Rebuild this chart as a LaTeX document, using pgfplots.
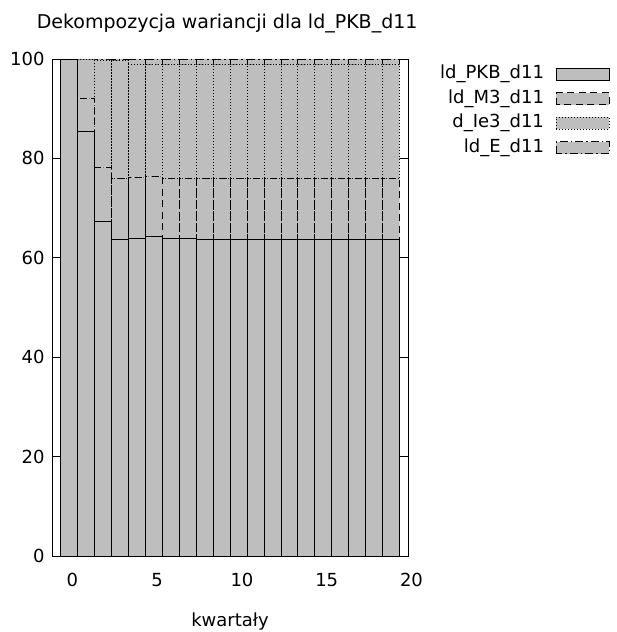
\documentclass[border=0pt]{standalone}
\usepackage{fontspec}
\setmainfont{DejaVu Sans}
\usepackage{pgfplots}
\usepackage{pgfplotstable}
\pgfplotsset{compat=1.18}
\definecolor{barfill}{HTML}{BEBEBE}

% udzialy w dekompozycji wariancji (procent), kwartaly 0-19
\pgfplotstableread{
q PKB M3 Ie3 E
0 100.0 0.0 0.0 0.0
1 85.5 6.6 7.8 0.1
2 67.4 10.8 21.6 0.2
3 63.8 12.1 23.8 0.3
4 64.0 12.2 22.8 1.0
5 64.3 12.1 22.5 1.1
6 63.9 12.0 23.0 1.1
7 63.9 12.0 23.0 1.1
8 63.8 12.1 23.0 1.1
9 63.8 12.1 23.0 1.1
10 63.8 12.1 23.0 1.1
11 63.8 12.1 23.0 1.1
12 63.8 12.1 23.0 1.1
13 63.8 12.1 23.0 1.1
14 63.8 12.1 23.0 1.1
15 63.8 12.1 23.0 1.1
16 63.8 12.1 23.0 1.1
17 63.8 12.1 23.0 1.1
18 63.8 12.1 23.0 1.1
19 63.8 12.1 23.0 1.1
}\vardec

\pgfplotsset{
  lgbox/.style={legend image code/.code={\draw[##1] (0pt,-6pt) rectangle (53pt,6pt);}},
  segment/.style={fill=barfill, draw=black, line width=0.7pt, lgbox},
}

\begin{document}
\begin{tikzpicture}
\useasboundingbox (-52pt,-76pt) rectangle (565pt,556pt);
\begin{axis}[
  at={(0pt,0pt)}, anchor=south west,
  width=356pt, height=497pt, scale only axis,
  font=\fontsize{18}{21}\selectfont,
  xmin=-1, xmax=20, ymin=0, ymax=100,
  ybar stacked, bar width=1,
  xtick={0,5,...,20}, ytick={0,20,...,100},
  tick align=inside, major tick length=9pt,
  x tick style={draw=none},
  y tick style={black, line width=0.7pt},
  axis line style={black, line width=0.8pt},
  /pgf/number format/assume math mode=true,
  xticklabel style={yshift=-14pt, xshift=3.5pt},
  yticklabel style={xshift=-4pt},
  title={Dekompozycja wariancji dla ld\_PKB\_d11},
  title style={at={(axis description cs:0.492,1.05)}, anchor=base, inner sep=0pt,
    font=\fontsize{19}{22}\selectfont},
  xlabel={kwartały},
  xlabel style={at={(axis description cs:0.5,-0.131)}, anchor=center, inner sep=0pt},
  legend style={at={(axis description cs:1.567,0.987)}, anchor=north east,
    draw=none, fill=none, inner sep=0pt, row sep=7.5pt, column sep=12pt,
    nodes={inner sep=0pt, text height=13pt, text depth=4pt}},
  legend cell align=right, legend plot pos=right,
]
\addplot[segment] table[x=q, y=PKB] {\vardec};
\addlegendentry{ld\_PKB\_d11}
\addplot[segment, dash pattern=on 7pt off 4.5pt] table[x=q, y=M3] {\vardec};
\addlegendentry{ld\_M3\_d11}
\addplot[segment, dash pattern=on 1pt off 2pt] table[x=q, y=Ie3] {\vardec};
\addlegendentry{d\_Ie3\_d11}
\addplot[segment, dash pattern=on 8pt off 3pt on 1.5pt off 3pt] table[x=q, y=E] {\vardec};
\addlegendentry{ld\_E\_d11}
\end{axis}
\end{tikzpicture}
\end{document}
